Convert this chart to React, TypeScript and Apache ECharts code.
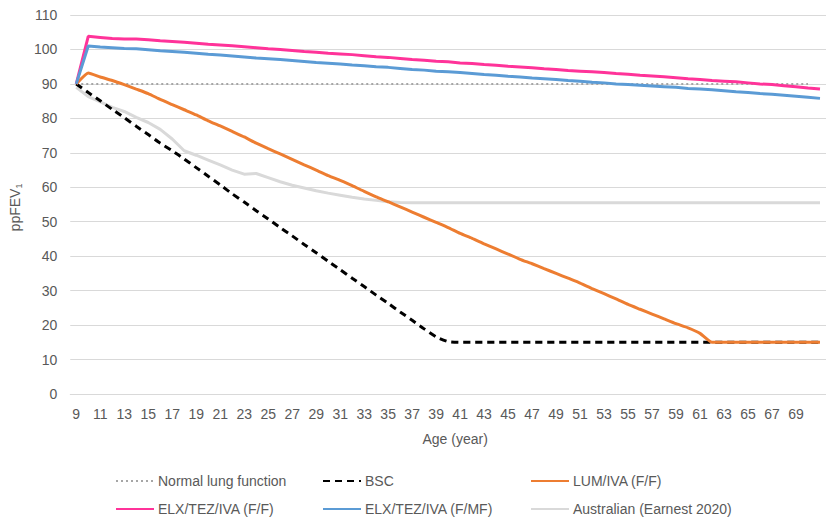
import React, { useEffect, useRef } from "react";
import * as echarts from "echarts";

const ages: string[] = [
  "9","10","11","12","13","14","15","16","17","18","19","20","21","22","23","24","25","26","27","28","29","30",
  "31","32","33","34","35","36","37","38","39","40","41","42","43","44","45","46","47","48","49","50",
  "51","52","53","54","55","56","57","58","59","60","61","62","63","64","65","66","67","68","69","70","71",
];

const normalLung: (number | string)[] = [
  90,90,90,90,90,90,90,90,90,90,90,90,90,90,90,90,90,90,90,90,90,90,
  90,90,90,90,90,90,90,90,90,90,90,90,90,90,90,90,90,90,90,90,
  90,90,90,90,90,90,90,90,90,90,90,90,90,90,90,90,90,90,90,90,"-",
];

const bsc: number[] = [
  90,87.5,85.1,82.6,80.2,77.7,75.3,72.8,70.6,68.2,65.7,63.2,60.7,58.1,55.7,53.2,50.8,48.3,45.9,43.4,41.0,38.5,
  36.1,33.6,31.2,28.7,26.3,23.8,21.4,18.9,16.6,15.2,15,15,15,15,15,15,15,15,15,15,
  15,15,15,15,15,15,15,15,15,15,15,15,15,15,15,15,15,15,15,15,15,
];

const lumIva: number[] = [
  90,93.2,92.0,91.0,89.8,88.5,87.2,85.5,84.0,82.5,81.0,79.3,77.8,76.2,74.6,72.8,71.2,69.7,68.1,66.5,65.0,63.4,
  62.0,60.5,58.8,57.2,55.8,54.3,52.8,51.3,49.8,48.3,46.6,45.2,43.6,42.1,40.6,39.1,37.8,36.4,35.0,33.6,
  32.2,30.6,29.1,27.6,26.0,24.6,23.2,21.8,20.4,19.2,17.6,15,15,15,15,15,15,15,15,15,15,
];

const elxFF: number[] = [
  90,103.8,103.5,103.2,103.0,103.0,102.8,102.5,102.3,102.1,101.8,101.5,101.3,101.1,100.8,100.5,100.2,100.0,99.7,99.4,99.2,98.9,
  98.7,98.5,98.2,97.9,97.7,97.4,97.1,96.9,96.6,96.4,96.1,95.9,95.6,95.4,95.1,94.9,94.7,94.4,94.2,93.9,
  93.7,93.5,93.3,93.0,92.8,92.5,92.3,92.1,91.8,91.5,91.3,91.0,90.8,90.6,90.3,90.0,89.8,89.5,89.2,88.8,88.5,
];

const elxFMF: number[] = [
  90,101.0,100.7,100.5,100.3,100.2,99.9,99.6,99.4,99.2,98.9,98.6,98.4,98.1,97.8,97.5,97.3,97.1,96.8,96.5,96.2,96.0,
  95.8,95.5,95.3,95.0,94.8,94.5,94.2,94.0,93.7,93.5,93.3,93.0,92.7,92.5,92.2,92.0,91.7,91.5,91.3,91.0,
  90.8,90.5,90.3,90.0,89.8,89.6,89.4,89.2,89.0,88.7,88.5,88.3,88.0,87.7,87.5,87.2,87.0,86.7,86.4,86.1,85.8,
];

const australian: number[] = [
  89,86.3,84.8,83.2,82.0,80.3,78.8,76.8,74.0,70.6,69.3,67.9,66.5,65.0,63.8,64.0,62.8,61.6,60.6,59.8,59.0,58.3,
  57.7,57.1,56.6,56.2,55.8,55.6,55.5,55.5,55.5,55.5,55.5,55.5,55.5,55.5,55.5,55.5,55.5,55.5,55.5,55.5,
  55.5,55.5,55.5,55.5,55.5,55.5,55.5,55.5,55.5,55.5,55.5,55.5,55.5,55.5,55.5,55.5,55.5,55.5,55.5,55.5,55.5,
];

const FONT = "'Liberation Sans', Arial, sans-serif";
const TXT = "#595959";

export default function App() {
  const ref = useRef<HTMLDivElement>(null);
  useEffect(() => {
    document.body.style.margin = "0";
    const chart = echarts.init(ref.current!, null, { renderer: "svg" });
    const legendCommon = {
      orient: "vertical",
      top: 474,
      padding: 0,
      itemWidth: 38,
      itemHeight: 14,
      itemGap: 14,
      itemStyle: { opacity: 0 },
      textStyle: { color: TXT, fontSize: 14, fontFamily: FONT, padding: [0, 0, 0, -1] },
      selectedMode: false,
    };
    chart.setOption({
      animation: false,
      textStyle: { fontFamily: FONT },
      grid: { left: 70, right: -9, top: 15, bottom: 129 },
      legend: [
        { ...legendCommon, left: 115, data: ["Normal lung function", "ELX/TEZ/IVA (F/F)"] },
        { ...legendCommon, left: 322, data: ["BSC", "ELX/TEZ/IVA (F/MF)"] },
        { ...legendCommon, left: 530, data: ["LUM/IVA (F/F)", "Australian (Earnest 2020)"] },
      ],
      xAxis: {
        type: "category",
        data: ages,
        boundaryGap: true,
        axisLine: { lineStyle: { color: "#d9d9d9" } },
        axisTick: { show: false },
        axisLabel: { interval: 1, color: TXT, fontSize: 14, margin: 13, showMaxLabel: false },
        name: "Age (year)",
        nameLocation: "middle",
        nameGap: 38,
        nameTextStyle: { color: TXT, fontSize: 14, padding: [0, 0, 0, 14] },
      },
      yAxis: {
        type: "value",
        min: 0,
        max: 110,
        interval: 10,
        axisLine: { show: false },
        axisTick: { show: false },
        axisLabel: { color: TXT, fontSize: 14, margin: 13 },
        splitLine: { lineStyle: { color: "#d9d9d9", width: 1 } },
        name: "{a|ppFEV}{b|1}",
        nameLocation: "middle",
        nameGap: 44,
        nameTextStyle: {
          padding: [0, 6, 0, 0],
          rich: {
            a: { color: TXT, fontSize: 14, fontFamily: FONT },
            b: { color: TXT, fontSize: 9, fontFamily: FONT, padding: [7, 0, 0, 0] },
          },
        },
      },
      series: [
        {
          name: "Normal lung function",
          type: "line",
          data: normalLung,
          symbol: "none",
          lineStyle: { color: "#a6a6a6", width: 2, type: [2, 3] },
          itemStyle: { color: "#a6a6a6" },
        },
        {
          name: "Australian (Earnest 2020)",
          type: "line",
          data: australian,
          symbol: "none",
          lineStyle: { color: "#d9d9d9", width: 3 },
          itemStyle: { color: "#d9d9d9" },
        },
        {
          name: "BSC",
          type: "line",
          data: bsc,
          symbol: "none",
          smooth: 0.2,
          lineStyle: { color: "#000000", width: 3, type: [7, 5] },
          itemStyle: { color: "#000000" },
        },
        {
          name: "LUM/IVA (F/F)",
          type: "line",
          data: lumIva,
          symbol: "none",
          smooth: 0.15,
          lineStyle: { color: "#ed7d31", width: 3 },
          itemStyle: { color: "#ed7d31" },
        },
        {
          name: "ELX/TEZ/IVA (F/F)",
          type: "line",
          data: elxFF,
          symbol: "none",
          lineStyle: { color: "#ff3399", width: 3 },
          itemStyle: { color: "#ff3399" },
        },
        {
          name: "ELX/TEZ/IVA (F/MF)",
          type: "line",
          data: elxFMF,
          symbol: "none",
          lineStyle: { color: "#5b9bd5", width: 3 },
          itemStyle: { color: "#5b9bd5" },
        },
      ],
    });
    return () => chart.dispose();
  }, []);
  return <div ref={ref} style={{ width: 826, height: 523 }} />;
}
